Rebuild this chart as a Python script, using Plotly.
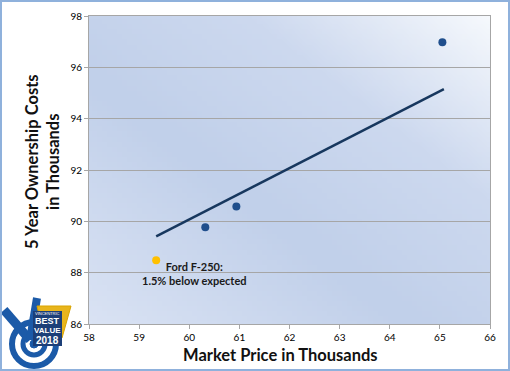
import base64, struct, zlib
import numpy as np
import plotly.graph_objects as go

# ---- data ----
market_price = [60.32, 60.94, 65.05]
ownership_cost = [89.77, 90.58, 96.98]
ford_price = [59.34]
ford_cost = [88.48]
trend_x = [59.34, 65.08]
trend_y = [89.41, 95.15]
ford_label = "Ford F-250:<br>1.5% below expected"
x_title = "Market Price in Thousands"
y_title = "5 Year Ownership Costs<br>in Thousands"
x_ticks = [58, 59, 60, 61, 62, 63, 64, 65, 66]
y_ticks = [86, 88, 90, 92, 94, 96, 98]

W, H = 510, 371
L, R, T, B = 89, 20, 16, 47
PW, PH = W - L - R, H - T - B


def px(x):
    return (x - L) / PW


def py(y):
    return (H - B - y) / PH


# ---- gradient background image ----
def gradient_png(w=80, h=60):
    u = np.linspace(0, 1, w)[None, :]
    v = np.linspace(0, 1, h)[:, None]
    t = ((1 - u) + v) / 2.0
    stops_t = [0.0, 0.3, 0.6, 1.0]
    stops_c = np.array([[246, 249, 253], [205, 217, 239], [193, 208, 234], [218, 227, 244]], float)
    img = np.zeros((h, w, 3))
    for c in range(3):
        img[:, :, c] = np.interp(t, stops_t, stops_c[:, c])
    img = img.astype(np.uint8)
    raw = b"".join(b"\x00" + img[r].tobytes() for r in range(h))

    def chunk(tag, data):
        return struct.pack(">I", len(data)) + tag + data + struct.pack(">I", zlib.crc32(tag + data) & 0xffffffff)

    png = b"\x89PNG\r\n\x1a\n" + chunk(b"IHDR", struct.pack(">IIBBBBB", w, h, 8, 2, 0, 0, 0)) \
        + chunk(b"IDAT", zlib.compress(raw, 9)) + chunk(b"IEND", b"")
    return "data:image/png;base64," + base64.b64encode(png).decode()


fig = go.Figure()
fig.add_trace(go.Scatter(x=trend_x, y=trend_y, mode="lines",
                         line=dict(color="#17375e", width=2.5), hoverinfo="skip"))
fig.add_trace(go.Scatter(x=market_price, y=ownership_cost, mode="markers",
                         marker=dict(color="#1f4e8c", size=8)))
fig.add_trace(go.Scatter(x=ford_price, y=ford_cost, mode="markers",
                         marker=dict(color="#ffc000", size=8)))

tickfont = dict(family="Lato, Arial", size=10, color="#000000")
fig.update_xaxes(range=[58, 66], tickvals=x_ticks, showgrid=False, zeroline=False,
                 showline=True, linecolor="#a6a6a6", linewidth=1, mirror=True,
                 ticks="outside", ticklen=4, tickcolor="#a6a6a6",
                 tickfont=tickfont, tickprefix="<b>", ticksuffix="</b>")
fig.update_yaxes(range=[86, 98], tickvals=y_ticks, showgrid=True, gridcolor="#a6a6a6", gridwidth=1,
                 zeroline=False, showline=True, linecolor="#a6a6a6", linewidth=1, mirror=True,
                 ticks="outside", ticklen=4, tickcolor="#a6a6a6",
                 tickfont=tickfont, tickprefix="<b>", ticksuffix="</b>")

annotations = [
    dict(x=60.1, y=87.95, xref="x", yref="y", text="<b>" + ford_label + "</b>", showarrow=False,
         xanchor="center", yanchor="middle",
         font=dict(family="Lato, Arial", size=11, color="#1a1a1a"), align="center"),
    dict(x=px(280), y=py(355), xref="paper", yref="paper", text="<b>" + x_title + "</b>",
         showarrow=False, xanchor="center", yanchor="middle",
         font=dict(family="Lato, Arial", size=16.5, color="#111111")),
    dict(x=px(42), y=py(162), xref="paper", yref="paper", text="<b>" + y_title + "</b>",
         showarrow=False, textangle=-90, xanchor="center", yanchor="middle",
         font=dict(family="Lato, Arial", size=16.5, color="#111111")),
]

# logo (approximate): Vincentric Best Value in Canada 2018
shapes = []
blue = "#1b5aa8"
def circ(cx, cy, r, **kw):
    return dict(type="circle", xref="paper", yref="paper",
                x0=px(cx - r), x1=px(cx + r), y0=py(cy + r), y1=py(cy - r), **kw)

shapes.append(circ(34, 344, 22, line=dict(color=blue, width=6), fillcolor="rgba(0,0,0,0)"))
shapes.append(circ(34, 344, 11, line=dict(color=blue, width=5), fillcolor="rgba(0,0,0,0)"))
shapes.append(circ(34, 344, 4, line=dict(color=blue, width=1), fillcolor=blue))
shapes.append(dict(type="line", xref="paper", yref="paper", x0=px(4), y0=py(310), x1=px(30), y1=py(340),
                   line=dict(color=blue, width=9)))
shapes.append(dict(type="line", xref="paper", yref="paper", x0=px(37), y0=py(298), x1=px(30), y1=py(340),
                   line=dict(color=blue, width=8)))
shield = "M {} {} L {} {} L {} {} L {} {} Z".format(px(37), py(306), px(71), py(306), px(62), py(338), px(46), py(345))
shapes.append(dict(type="path", xref="paper", yref="paper", path=shield, fillcolor="#e8b51c",
                   line=dict(color="#d9a400", width=1)))
shapes.append(dict(type="rect", xref="paper", yref="paper", x0=px(33), x1=px(62), y0=py(346), y1=py(311),
                   fillcolor="#1c3f78", line=dict(width=0)))
annotations += [
    dict(x=px(47.5), y=py(313.5), xref="paper", yref="paper", text="VINCENTRIC", showarrow=False,
         xanchor="center", yanchor="middle", font=dict(family="Arial", size=4, color="white")),
    dict(x=px(47.5), y=py(321), xref="paper", yref="paper", text="<b>BEST</b>", showarrow=False,
         xanchor="center", yanchor="middle", font=dict(family="Arial", size=9, color="white")),
    dict(x=px(47.5), y=py(330), xref="paper", yref="paper", text="<b>VALUE</b>", showarrow=False,
         xanchor="center", yanchor="middle", font=dict(family="Arial", size=8, color="white")),
    dict(x=px(47.5), y=py(340), xref="paper", yref="paper", text="<b>2018</b>", showarrow=False,
         xanchor="center", yanchor="middle", font=dict(family="Arial", size=10, color="white")),
]
# outer border
shapes.append(dict(type="rect", xref="paper", yref="paper", x0=px(1), x1=px(W - 1), y0=py(H - 1), y1=py(1),
                   line=dict(color="#8fb1dc", width=2), fillcolor="rgba(0,0,0,0)", layer="above"))

fig.update_layout(
    width=W, height=H, margin=dict(l=L, r=R, t=T, b=B, autoexpand=False),
    paper_bgcolor="white", plot_bgcolor="#c8d5ed", showlegend=False,
    annotations=annotations, shapes=shapes,
    images=[dict(source=gradient_png(), xref="paper", yref="paper", x=0, y=1, sizex=1, sizey=1,
                 sizing="stretch", xanchor="left", yanchor="top", layer="below")],
)

fig.write_html("out.html", config={"displayModeBar": False},
               post_script="document.body.style.margin='0';document.body.style.overflow='hidden';")
